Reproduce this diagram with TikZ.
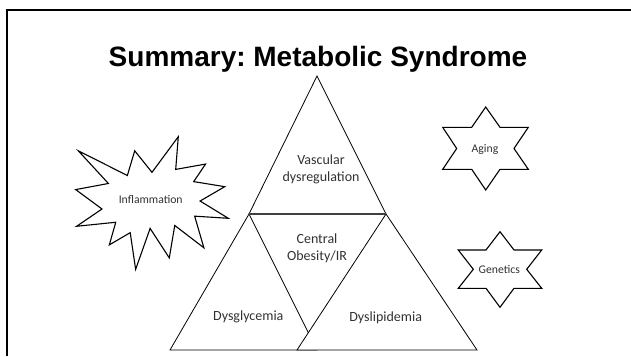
\documentclass[tikz,border=0pt]{standalone}
\usepackage{fontspec}
\setmainfont{Carlito}
\newfontfamily\titlefont{Liberation Sans}
\definecolor{txt}{RGB}{50,50,50}
\tikzset{
  shapeline/.style={draw=black, line width=0.8pt, fill=white, line join=miter},
  lbl/.style={text=txt, font=\fontsize{14}{17}\selectfont, align=center, inner sep=0pt},
  slbl/.style={text=txt, font=\fontsize{11.7}{13}\selectfont, align=center, inner sep=0pt},
}
\begin{document}
\frenchspacing
\begin{tikzpicture}[x=1pt,y=-1pt]
\useasboundingbox (0,0) rectangle (631,356);
\fill[white] (0,0) rectangle (631,356);
% frame
\draw[line width=2.6pt] (7,356) -- (7,10) -- (631,10);
% title
\node[font=\titlefont\bfseries\fontsize{28}{32}\selectfont, inner sep=0pt] (title) at (318,59) {Summary: Metabolic Syndrome};
% triangles
\draw[shapeline] (317,76) -- (386,214) -- (249,214) -- cycle;
\draw[shapeline] (249,214) -- (170,350) -- (317,350) -- cycle;
\draw[shapeline] (386,214) -- (297,350) -- (477,350) -- cycle;
\draw[draw=black!75, line width=1.3pt] (249,214) -- (386,214);
% explosion
\begin{scope}[shift={(75.7,136.7)}, xscale=0.7065, yscale=0.614]
\draw[shapeline, line width=1.1pt] (108.00,58.00) -- (145.22,0) -- (141.55,53.25) -- (183.80,44.57) -- (167.02,73.15) -- (210.97,81.37) -- (176.07,104.75) -- (216.00,132.90) -- (168.37,129.42) -- (181.45,180.95) -- (140.20,144.57) -- (132.47,197.37) -- (105.32,149.35) -- (84.85,216.00) -- (77.15,156.27) -- (47.62,176.17) -- (56.67,139.37) -- (1.35,145.87) -- (37.22,117.75) -- (0,86.15) -- (46.27,76.17) -- (3.70,22.95) -- (73.12,63.20) -- (83.52,22.95) -- cycle;
\end{scope}
% six-point stars
\draw[shapeline, line width=1.1pt] (485.7,107) -- (500,127.3) -- (528.3,127.3) -- (514,148.5) -- (528.3,169.3) -- (500,169.3) -- (485.7,190) -- (471.7,169.3) -- (442.7,169.3) -- (456.7,148.5) -- (442.7,127.3) -- (471.7,127.3) -- cycle;
\draw[shapeline, line width=1.1pt] (500,231.7) -- (514,250) -- (541.7,250) -- (526.7,269.3) -- (541.7,288.3) -- (514,288.3) -- (500,307.3) -- (486,288.3) -- (458.3,288.3) -- (473.3,269.3) -- (458.3,250) -- (486,250) -- cycle;
% labels
\node[lbl] (vasc) at (321,169) {Vascular\\dysregulation};
\node[lbl] (cent) at (317,248) {Central\\Obesity/IR};
\node[lbl] (dysg) at (248.3,317.3) {Dysglycemia};
\node[lbl] (dysl) at (385.7,317.3) {Dyslipidemia};
\node[slbl] (infl) at (150.7,199.3) {Inflammation};
\node[slbl] (aging) at (485,149) {Aging};
\node[slbl] (gene) at (499.3,269) {Genetics};
\end{tikzpicture}
\end{document}
